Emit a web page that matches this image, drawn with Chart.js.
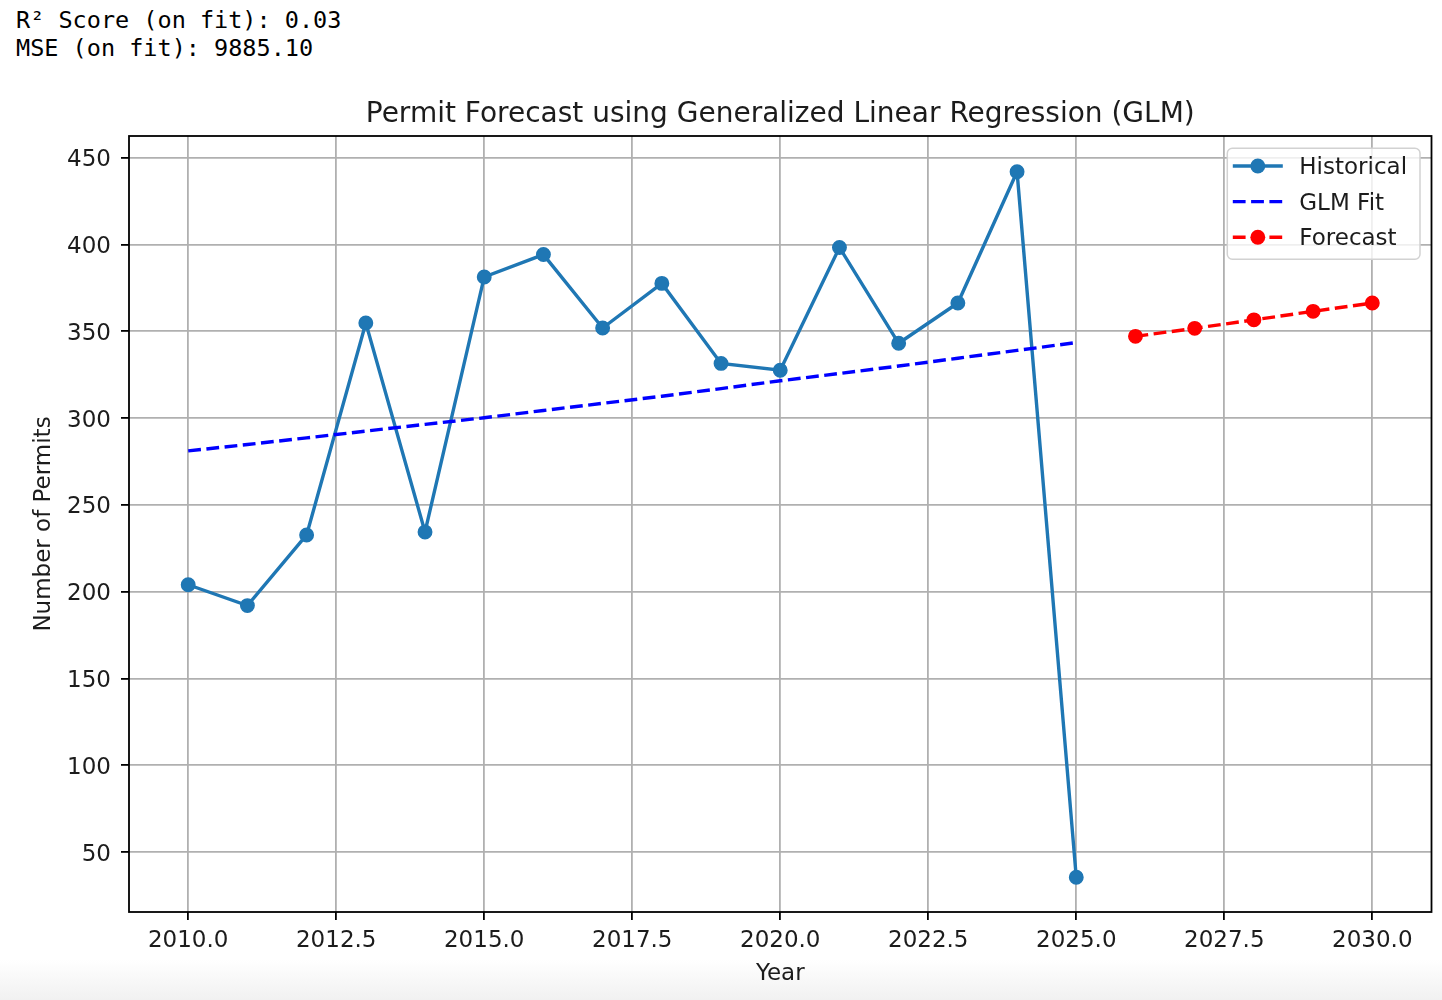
<!DOCTYPE html>
<html>
<head>
<meta charset="utf-8">
<script src="https://cdn.jsdelivr.net/npm/chart.js@4.4.1/dist/chart.umd.min.js"></script>
<style>
  html, body { margin: 0; padding: 0; background: #fff; }
  body { width: 1442px; height: 1000px; position: relative; overflow: hidden; }
  #shade { position: absolute; left: 0; right: 0; bottom: 0; height: 40px; background: linear-gradient(#ffffff, #f1f1f1); }
  #stats { position: absolute; left: 16px; top: 6px; margin: 0; font-family: "DejaVu Sans Mono", monospace; font-size: 23.5px; line-height: 28.4px; color: #000; }
  #wrap { position: absolute; left: 0; top: 0; width: 1442px; height: 1000px; }
</style>
</head>
<body>
<div id="shade"></div>
<pre id="stats">R² Score (on fit): 0.03
MSE (on fit): 9885.10</pre>
<div id="wrap"><canvas id="chart" width="1442" height="1000"></canvas></div>
<script>
// values
const histYears = [2010, 2011, 2012, 2013, 2014, 2015, 2016, 2017, 2018, 2019, 2020, 2021, 2022, 2023, 2024, 2025];
const histPermits = [204.0, 192.0, 232.7, 354.8, 234.4, 381.3, 394.2, 351.9, 377.6, 331.5, 327.6, 398.3, 343.1, 366.3, 441.9, 35.5];
const fitPermits = [281.1, 284.8, 288.6, 292.5, 296.4, 300.2, 304.4, 308.5, 312.6, 317.0, 321.5, 325.7, 330.0, 334.5, 339.0, 343.5];
const forecastYears = [2026, 2027, 2028, 2029, 2030];
const forecastPermits = [347.1, 351.7, 356.6, 361.5, 366.3];
const xTicks = [2010, 2012.5, 2015, 2017.5, 2020, 2022.5, 2025, 2027.5, 2030];
const yTicks = [50, 100, 150, 200, 250, 300, 350, 400, 450];

const textColor = '#1c1c1c';
const gridColor = '#b0b0b0';
const font = { family: 'DejaVu Sans', size: 23 };

const toPoints = (xs, ys) => xs.map((x, i) => ({ x: x, y: ys[i] }));

// black frame round the plot area, like matplotlib spines
const frame = {
    id: 'frame',
    afterDatasetsDraw(chart) {
        const { ctx, chartArea: a } = chart;
        ctx.save();
        ctx.lineWidth = 1.8;
        ctx.strokeStyle = '#000';
        ctx.strokeRect(a.left, a.top, a.right - a.left, a.bottom - a.top);
        ctx.restore();
    }
};

// boxed legend in the upper right corner of the plot
const boxLegend = {
    id: 'boxLegend',
    afterDraw(chart) {
        const { ctx, chartArea: a } = chart;
        const left = a.right - 204.2, top = a.top + 12.3, w = 192.7, h = 111;
        ctx.save();
        ctx.beginPath();
        ctx.roundRect(left, top, w, h, 5);
        ctx.fillStyle = 'rgba(255,255,255,0.8)';
        ctx.fill();
        ctx.lineWidth = 1.5;
        ctx.strokeStyle = '#d2d2d2';
        ctx.stroke();
        ctx.font = '23px "DejaVu Sans"';
        ctx.textBaseline = 'middle';
        chart.data.datasets.forEach((ds, i) => {
            const y = top + 17.7 + i * 35.6;
            const x0 = left + 5.5, x1 = x0 + 50;
            ctx.beginPath();
            ctx.setLineDash(ds.borderDash || []);
            ctx.lineWidth = ds.borderWidth;
            ctx.strokeStyle = ds.borderColor;
            ctx.moveTo(x0, y);
            ctx.lineTo(x1, y);
            ctx.stroke();
            ctx.setLineDash([]);
            if (ds.pointRadius > 0) {
                ctx.beginPath();
                ctx.arc((x0 + x1) / 2, y, ds.pointRadius + ds.pointBorderWidth / 2, 0, Math.PI * 2);
                ctx.fillStyle = ds.pointBackgroundColor;
                ctx.fill();
            }
            ctx.fillStyle = textColor;
            ctx.textAlign = 'left';
            ctx.fillText(ds.label, left + 72, y + 2);
        });
        ctx.restore();
    }
};

const ctx = document.getElementById('chart').getContext('2d');
new Chart(ctx, {
    type: 'line',
    data: {
        datasets: [
            {
                label: 'Historical',
                data: toPoints(histYears, histPermits),
                borderColor: '#1f77b4',
                backgroundColor: '#1f77b4',
                pointBackgroundColor: '#1f77b4',
                pointBorderColor: '#1f77b4',
                borderWidth: 3.4,
                pointRadius: 6.7,
                pointBorderWidth: 1.5,
                tension: 0,
                order: 2
            },
            {
                label: 'GLM Fit',
                data: toPoints(histYears, fitPermits),
                borderColor: '#0000ff',
                backgroundColor: '#0000ff',
                borderWidth: 3.4,
                borderDash: [12.8, 5.5],
                pointRadius: 0,
                pointBorderWidth: 0,
                tension: 0,
                order: 1
            },
            {
                label: 'Forecast',
                data: toPoints(forecastYears, forecastPermits),
                borderColor: '#ff0000',
                backgroundColor: '#ff0000',
                pointBackgroundColor: '#ff0000',
                pointBorderColor: '#ff0000',
                borderWidth: 3.4,
                borderDash: [12.8, 5.5],
                pointRadius: 6.7,
                pointBorderWidth: 1.5,
                tension: 0,
                order: 0
            }
        ]
    },
    options: {
        responsive: false,
        animation: false,
        layout: { padding: { left: 0, right: 10.5, top: 0, bottom: 0 } },
        scales: {
            x: {
                type: 'linear',
                min: 2009,
                max: 2031,
                afterBuildTicks: scale => { scale.ticks = xTicks.map(v => ({ value: v })); },
                afterFit: scale => { scale.height = 88; },
                border: { display: false },
                grid: { color: gridColor, lineWidth: 1.8, drawTicks: true, tickLength: 8, tickColor: '#000', tickWidth: 1.8 },
                ticks: {
                    autoSkip: false,
                    maxRotation: 0,
                    padding: 7,
                    color: textColor,
                    font: font,
                    callback: v => Number(v).toFixed(1)
                },
                title: { display: true, text: 'Year', color: textColor, font: font, padding: { top: 0, bottom: 12 } }
            },
            y: {
                type: 'linear',
                min: 15.5,
                max: 462.5,
                afterBuildTicks: scale => { scale.ticks = yTicks.map(v => ({ value: v })); },
                afterFit: scale => { scale.width = 129; },
                border: { display: false },
                grid: { color: gridColor, lineWidth: 1.8, drawTicks: true, tickLength: 8, tickColor: '#000', tickWidth: 1.8 },
                ticks: {
                    autoSkip: false,
                    padding: 10,
                    labelOffset: 2.5,
                    color: textColor,
                    font: font,
                    callback: v => String(v)
                },
                title: { display: true, text: 'Number of Permits', color: textColor, font: font, padding: { top: 30.5, bottom: 0 } }
            }
        },
        plugins: {
            legend: { display: false },
            tooltip: { enabled: false },
            title: {
                display: true,
                text: 'Permit Forecast using Generalized Linear Regression (GLM)',
                color: textColor,
                fullSize: false,
                font: { family: 'DejaVu Sans', size: 28, weight: 'normal' },
                padding: { top: 98, bottom: 4.4 }
            }
        }
    },
    plugins: [frame, boxLegend]
});
</script>
</body>
</html>
